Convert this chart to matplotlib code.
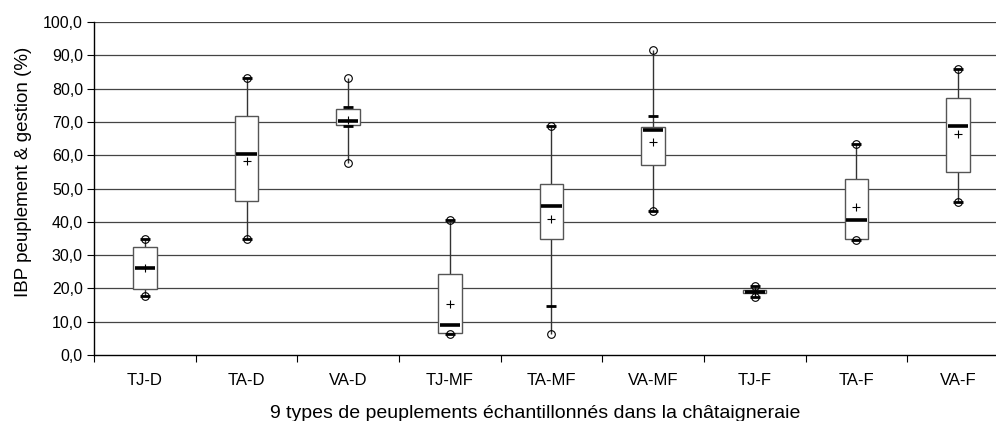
import numpy as np
import matplotlib
matplotlib.use('Agg')
from matplotlib import pyplot as plt

plt.rcParams['font.family'] = ['Liberation Sans', 'DejaVu Sans']

# 9 types de peuplements
categories = ['TJ-D', 'TA-D', 'VA-D', 'TJ-MF', 'TA-MF', 'VA-MF', 'TJ-F', 'TA-F', 'VA-F']
mins = [17.6, 34.7, 57.6, 6.3, 6.4, 43.2, 17.5, 34.6, 46.0]
p10 = [17.6, 34.7, 68.8, 6.3, 14.8, 43.2, 17.5, 34.6, 46.0]
q1 = [19.9, 46.1, 69.0, 6.5, 34.8, 57.1, 18.5, 34.8, 55.0]
medians = [26.1, 60.4, 70.4, 9.1, 44.8, 67.7, 19.0, 40.4, 68.8]
means = [26.0, 58.3, 70.6, 15.4, 40.7, 64.1, 19.0, 44.3, 66.3]
q3 = [32.3, 71.7, 73.9, 24.4, 51.5, 68.6, 19.5, 53.0, 77.2]
p90 = [34.7, 83.2, 74.6, 40.5, 68.8, 71.8, 20.7, 63.4, 85.9]
maxs = [34.7, 83.2, 83.2, 40.5, 68.8, 91.7, 20.7, 63.4, 85.9]

x = np.arange(len(categories))
w = 0.23

fig = plt.figure(figsize=(9.96, 4.21), dpi=100)
ax = fig.add_axes([0.0944, 0.1568, 1.013 - 0.0944, 0.9477 - 0.1568])

# grille
for v in np.arange(10, 101, 10):
    ax.axhline(v, color='#444444', lw=0.9, zorder=1)

# moustaches
ax.vlines(x, mins, maxs, color='#333333', lw=1.0, zorder=2)
# boites
ax.bar(x, np.array(q3) - np.array(q1), bottom=q1, width=w,
       color='white', edgecolor='#555555', lw=1.0, zorder=3)
# mediane
ax.hlines(medians, x - w / 2 + 0.015, x + w / 2 - 0.015, color='black', lw=2.6, zorder=4)
# moyenne
ax.plot(x, means, '+', color='black', ms=6, mew=0.8, ls='none', zorder=5)
# percentiles
ax.plot(x, p10, '_', color='black', ms=6.5, mew=2, ls='none', zorder=5)
ax.plot(x, p90, '_', color='black', ms=6.5, mew=2, ls='none', zorder=5)
# min / max
ax.plot(x, mins, 'o', mfc='none', mec='black', ms=5.5, mew=0.8, ls='none', zorder=6)
ax.plot(x, maxs, 'o', mfc='none', mec='black', ms=5.5, mew=0.8, ls='none', zorder=6)

ax.set_xlim(-0.5, 8.5)
ax.set_ylim(0, 100)
yt = np.arange(0, 101, 10)
ax.set_yticks(yt)
ax.set_yticklabels([('%.1f' % v).replace('.', ',') for v in yt])

ax.set_xticks(np.arange(-0.5, 9, 1))
ax.set_xticklabels([])
ax.set_xticks(x, minor=True)
ax.set_xticklabels(categories, minor=True)
ax.tick_params(axis='x', which='major', length=5, width=0.8, direction='out')
ax.tick_params(axis='x', which='minor', length=0, pad=13, labelsize=12)
ax.tick_params(axis='y', length=5, width=0.8, labelsize=11.5, pad=3)

for s in ['top', 'right']:
    ax.spines[s].set_visible(False)
ax.spines['left'].set_linewidth(1.0)
ax.spines['bottom'].set_linewidth(1.0)

ax.set_ylabel('IBP peuplement & gestion (%)', fontsize=13.5, va='center')
ax.yaxis.set_label_coords((23.5 - 94) / 915, (355 - 172) / 333)
ax.set_xlabel('9 types de peuplements échantillonnés dans la châtaigneraie', fontsize=14, va='baseline')
ax.xaxis.set_label_coords((535 - 94) / 915, (355 - 418) / 333)

plt.savefig('out.png', dpi=100)
